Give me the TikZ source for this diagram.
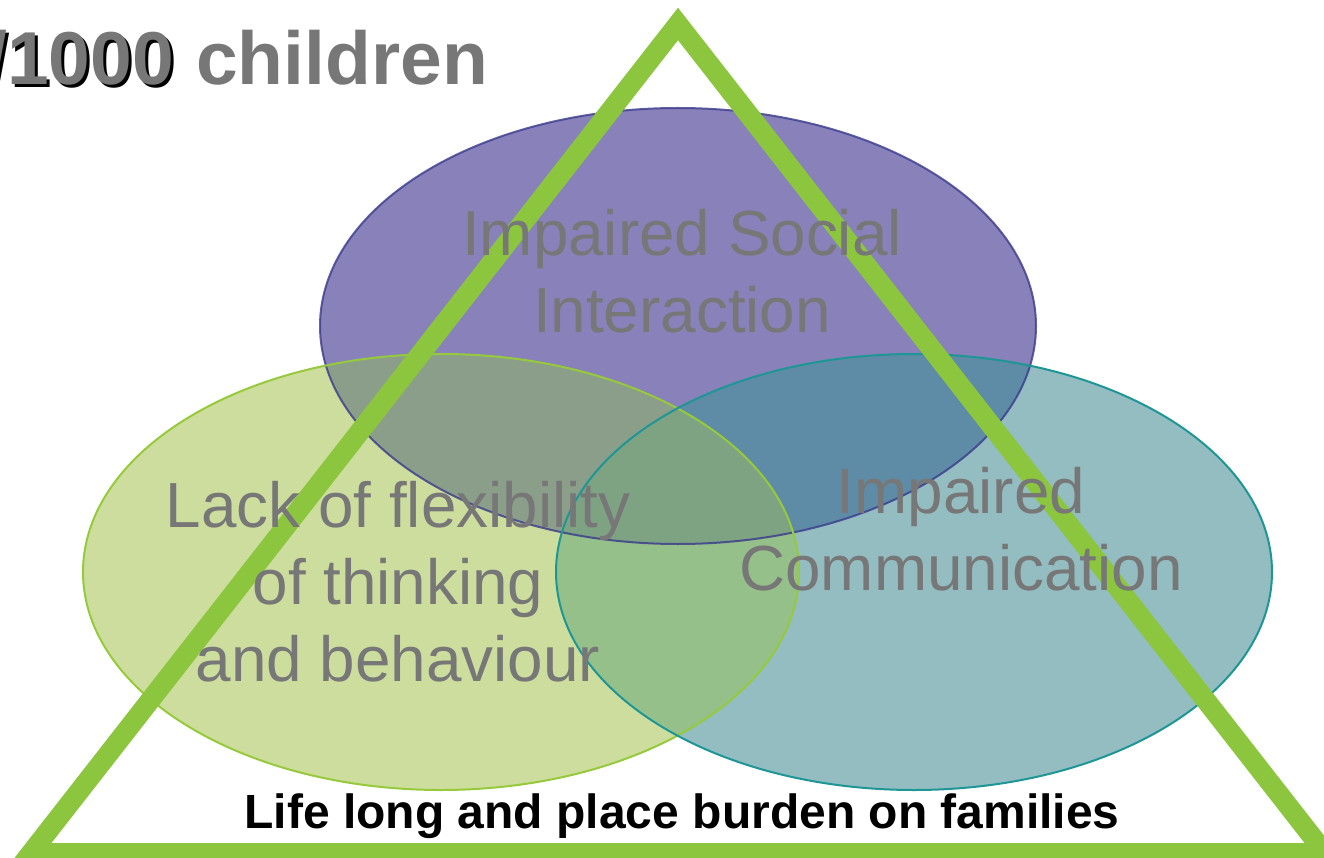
\documentclass[tikz,border=0pt]{standalone}
\usepackage{fontspec}
\setmainfont{Liberation Sans}
\definecolor{pcol}{RGB}{136,129,186}
\definecolor{gcol}{RGB}{205,221,157}
\definecolor{tcol}{RGB}{147,189,192}
\definecolor{pgcol}{RGB}{139,158,137}
\definecolor{ptcol}{RGB}{94,140,166}
\definecolor{gtcol}{RGB}{150,192,137}
\definecolor{pgtcol}{RGB}{126,163,131}
\definecolor{pline}{RGB}{58,58,140}
\definecolor{gline}{RGB}{150,202,60}
\definecolor{tline}{RGB}{30,150,150}
\definecolor{tri}{RGB}{140,198,63}
\definecolor{txtgray}{RGB}{119,119,119}
\tikzset{
  label text/.style={text=txtgray, font=\fontsize{63.8}{77}\selectfont, align=center, inner sep=0pt},
  head text/.style={font=\fontsize{75}{80}\selectfont\bfseries, inner sep=0pt, anchor=base west},
}
\newcommand{\ellP}{(678,326) ellipse [x radius=358pt, y radius=218pt]}
\newcommand{\ellG}{(441,572) ellipse [x radius=358pt, y radius=218pt]}
\newcommand{\ellT}{(914,572) ellipse [x radius=358pt, y radius=218pt]}
\begin{document}
\begin{tikzpicture}[x=1pt,y=-1pt]
\useasboundingbox (0,0) rectangle (1324,858);
% plain areas of the three circles
\fill[pcol] \ellP;
\fill[gcol] \ellG;
\fill[tcol] \ellT;
% overlaps
\begin{scope}
  \clip \ellG;
  \fill[gtcol] \ellT;
\end{scope}
\begin{scope}
  \clip \ellP;
  \fill[pgcol] \ellG;
  \fill[ptcol] \ellT;
  \clip \ellG;
  \fill[pgtcol] \ellT;
\end{scope}
% outlines
\draw[pline, line width=2pt, opacity=0.8] \ellP;
\draw[gline, line width=2pt] \ellG;
\draw[tline, line width=2pt] \ellT;
% triangle frame
\coordinate (apex) at (678,24);
\coordinate (bl) at (31,853);
\coordinate (br) at (1325,853);
\draw[tri, line width=20pt, line join=miter] (apex) -- (br) -- (bl) -- cycle;
% labels
\node[label text] (social) at (682,271) {Impaired Social\\Interaction};
\node[label text] (flex) at (398,582) {Lack of flexibility\\of thinking\\and behaviour};
\node[label text] (comm) at (961,529) {Impaired\\Communication};
\node[font=\fontsize{48}{50}\selectfont\bfseries, inner sep=0pt, anchor=base] (burden) at (682,828) {Life long and place burden on families};
% heading with shadowed figure
\node[head text, text=black] (ratioshadow) at (-11,88) {/1000};
\node[head text, text=txtgray] (ratio) at (-14,85) {/1000};
\node[head text, text=txtgray] (kids) at ([xshift=22pt]ratio.base east) {children};
\end{tikzpicture}
\end{document}
